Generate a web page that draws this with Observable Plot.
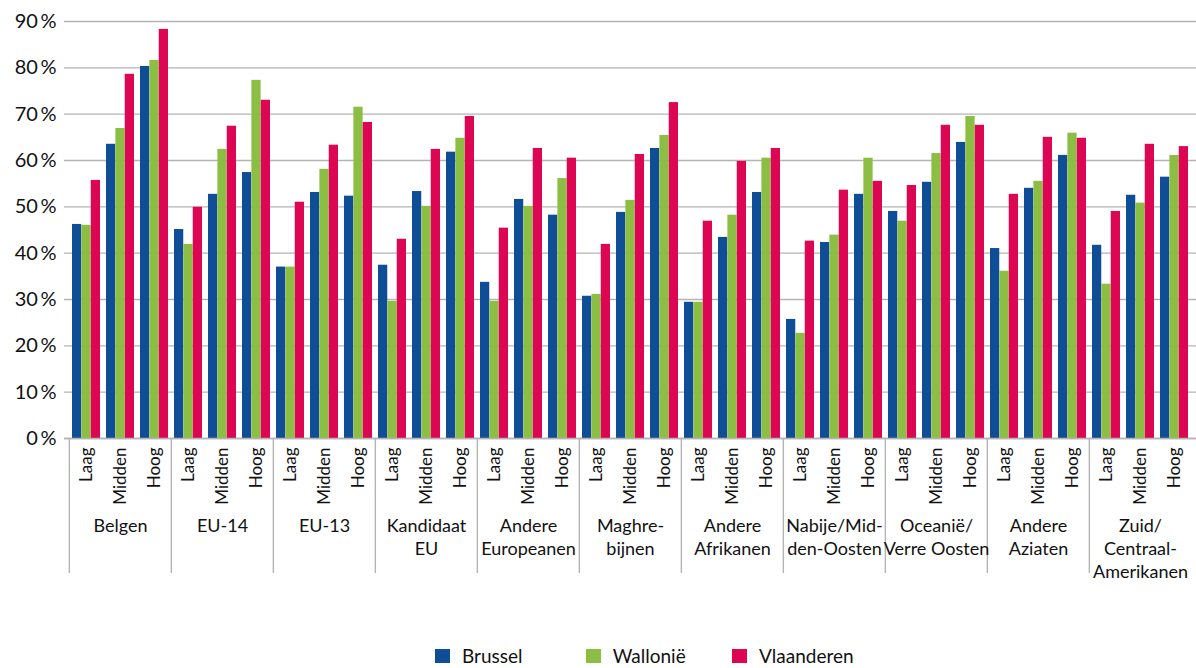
<!DOCTYPE html>
<html><head><meta charset="utf-8">
<script src="https://cdn.jsdelivr.net/npm/d3@7"></script>
<script src="https://cdn.jsdelivr.net/npm/@observablehq/plot@0.6"></script>
<style>
body{margin:0;background:#fff;font-family:Lato,sans-serif;}
#chart{position:relative;width:1196px;height:668px;overflow:hidden}
#chart svg{position:absolute;left:0;top:0}
.legend{position:absolute;top:645px;left:435px;display:flex;font-size:19px;color:#111;line-height:21px}
.item{display:flex;align-items:center}
.sw{width:15px;height:14px;margin-right:12px}
</style></head><body><div id="chart"></div>
<script>
const groups = ["Belgen","EU-14","EU-13","Kandidaat EU","Andere Europeanen","Maghrebijnen","Andere Afrikanen","Nabije/Midden-Oosten","Oceanië/Verre Oosten","Andere Aziaten","Zuid/Centraal-Amerikanen"];
const groupLabels = ["Belgen","EU-14","EU-13","Kandidaat\nEU","Andere\nEuropeanen","Maghre-\nbijnen","Andere\nAfrikanen","Nabije/Mid-\nden-Oosten","Oceanië/\nVerre Oosten","Andere\nAziaten","Zuid/\nCentraal-\nAmerikanen"];
const levels = ["Laag","Midden","Hoog"];
const regions = ["Brussel","Wallonië","Vlaanderen"];
const colors = ["#0F4D96","#8BBE43","#DD0652"];
const yTicks = [0,10,20,30,40,50,60,70,80,90];
const brussel = [46.2,63.5,80.3, 45.1,52.7,57.4, 37.0,53.1,52.3, 37.4,53.3,61.8, 33.7,51.6,48.2, 30.7,48.8,62.6, 29.4,43.4,53.1, 25.7,42.3,52.7, 49.0,55.3,63.9, 41.0,54.0,61.1, 41.7,52.5,56.4];
const wallonie = [46.0,66.9,81.6, 41.9,62.4,77.3, 37.0,58.1,71.5, 29.6,50.1,64.8, 29.6,50.1,56.1, 31.1,51.4,65.4, 29.4,48.2,60.5, 22.7,43.9,60.5, 46.9,61.5,69.5, 36.1,55.5,65.9, 33.3,50.8,61.1];
const vlaanderen = [55.7,78.6,88.3, 49.9,67.4,73.0, 51.0,63.3,68.2, 43.0,62.4,69.5, 45.4,62.6,60.5, 41.9,61.3,72.5, 46.9,59.8,62.6, 42.6,53.6,55.5, 54.6,67.6,67.6, 52.7,65.0,64.8, 49.0,63.5,63.0];

const rows = [];
groups.forEach((g, gi) => levels.forEach((l, li) => {
  const i = gi * 3 + li;
  rows.push({key: g + "|" + l, group: g, level: l, Brussel: brussel[i], Wallonie: wallonie[i], Vlaanderen: vlaanderen[i]});
}));
const keys = rows.map(d => d.key);

const W = 1196, H = 600, mL = 64, mR = 0, mT = 21, mB = H - 438;
const pIn = 0.18, pOut = 0.09;
const step = (W - mL - mR) / (keys.length - pIn + 2 * pOut);
const band = step * (1 - pIn);
const third = band / 3;
const font = "Lato, sans-serif";

const chart = Plot.plot({
  width: W, height: H,
  marginLeft: mL, marginRight: mR, marginTop: mT, marginBottom: mB,
  style: {fontFamily: font, color: "#111", background: "transparent"},
  x: {type: "band", domain: keys, paddingInner: pIn, paddingOuter: pOut, align: 0.5},
  y: {domain: [0, 90]},
  marks: [
    Plot.gridY(yTicks, {stroke: "#b4b4b4", strokeOpacity: 1, strokeWidth: 1.4}),
    Plot.axisY(yTicks, {tickSize: 0, tickPadding: 8, fontSize: 20, tickFormat: d => d + "\u2009%", label: null}),
    Plot.barY(rows, {x: "key", y: "Brussel", fill: colors[0], insetLeft: 0, insetRight: 2 * third}),
    Plot.barY(rows, {x: "key", y: "Wallonie", fill: colors[1], insetLeft: third, insetRight: third}),
    Plot.barY(rows, {x: "key", y: "Vlaanderen", fill: colors[2], insetLeft: 2 * third, insetRight: 0}),
    Plot.ruleY([0], {stroke: "#b4b4b4", strokeWidth: 1.4}),
    Plot.axisX({tickRotate: -90, tickSize: 0, tickPadding: 9, fontSize: 17, tickFormat: k => k.split("|")[1], label: null}),
    Plot.ruleX(groups, {x: g => g + "|Laag", dx: -step / 2, insetTop: 438 - mT, insetBottom: -135, stroke: "#b4b4b4", strokeWidth: 1.4}),
    Plot.text(groups, {x: g => g + "|Midden", text: (g, i) => groupLabels[i], frameAnchor: "bottom", lineAnchor: "top", dy: 77, fontSize: 18, lineHeight: 1.28, fill: "#111"})
  ]
});
const root = document.getElementById("chart");
root.appendChild(chart);

const legend = document.createElement("div");
legend.className = "legend";
const widths = [150.7, 146.3, null];
regions.forEach((r, i) => {
  const it = document.createElement("div");
  it.className = "item";
  if (widths[i]) it.style.width = widths[i] + "px";
  const sw = document.createElement("span");
  sw.className = "sw";
  sw.style.background = colors[i];
  const tx = document.createElement("span");
  tx.textContent = r;
  it.appendChild(sw); it.appendChild(tx);
  legend.appendChild(it);
});
root.appendChild(legend);
</script>
</body></html>
